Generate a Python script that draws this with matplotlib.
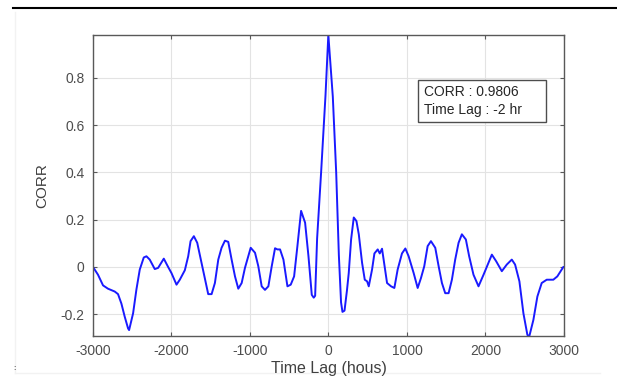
import matplotlib
matplotlib.use("Agg")
import matplotlib.pyplot as plt
from matplotlib.lines import Line2D
from matplotlib.patches import Rectangle

plt.rcParams['font.family'] = ['Liberation Sans', 'DejaVu Sans']
plt.rcParams['axes.unicode_minus'] = False

# cross-correlation (lag in hours)
lags = [-3000, -2936, -2872, -2809, -2723, -2681, -2638, -2596, -2553, -2540,
        -2489, -2447, -2404, -2353, -2319, -2277, -2213, -2170, -2098, -2043,
        -2000, -1936, -1894, -1830, -1787, -1757, -1715, -1672, -1617, -1553,
        -1532, -1489, -1447, -1404, -1362, -1319, -1277, -1234, -1191, -1149,
        -1106, -1064, -991, -936, -894, -851, -809, -766, -723, -681,
        -651, -617, -574, -523, -481, -438, -396, -349, -298, -255,
        -213, -188, -170, -145, -94, -38, -2, 55, 98, 132,
        160, 178, 204, 235, 258, 288, 322, 356, 386, 428,
        462, 492, 513, 555, 585, 627, 653, 682, 712, 746,
        797, 839, 881, 936, 979, 1021, 1085, 1136, 1178, 1220,
        1263, 1305, 1360, 1403, 1445, 1487, 1530, 1572, 1614, 1657,
        1699, 1750, 1792, 1847, 1911, 1975, 2038, 2081, 2136, 2208,
        2271, 2335, 2377, 2432, 2483, 2534, 2559, 2610, 2661, 2716,
        2780, 2864, 2915, 2992, 3000]
corr = [0.0, -0.033, -0.078, -0.092, -0.104, -0.115, -0.155, -0.21, -0.26, -0.267,
        -0.196, -0.096, -0.011, 0.040, 0.045, 0.031, -0.009, -0.004, 0.035, 0.0,
        -0.026, -0.075, -0.054, -0.014, 0.045, 0.109, 0.130, 0.102, 0.017, -0.082,
        -0.115, -0.115, -0.068, 0.031, 0.081, 0.111, 0.106, 0.031, -0.040, -0.092,
        -0.068, -0.004, 0.081, 0.060, 0.003, -0.082, -0.097, -0.082, 0.003, 0.079,
        0.074, 0.074, 0.031, -0.082, -0.075, -0.040, 0.088, 0.237, 0.187, 0.045,
        -0.118, -0.130, -0.122, 0.120, 0.40, 0.726, 0.9806, 0.72, 0.40, 0.05,
        -0.15, -0.19, -0.185, -0.10, -0.026, 0.116, 0.209, 0.194, 0.138, 0.017,
        -0.054, -0.061, -0.082, -0.011, 0.057, 0.074, 0.057, 0.077, 0.010, -0.068,
        -0.082, -0.089, -0.011, 0.057, 0.078, 0.045, -0.026, -0.089, -0.047, 0.003,
        0.088, 0.109, 0.081, 0.003, -0.068, -0.111, -0.111, -0.054, 0.031, 0.102,
        0.138, 0.116, 0.045, -0.033, -0.082, -0.033, 0.017, 0.052, 0.024, -0.018,
        0.010, 0.031, 0.010, -0.061, -0.196, -0.288, -0.292, -0.224, -0.125, -0.068,
        -0.054, -0.054, -0.040, 0.0, 0.0]

x_ticks = [-3000, -2000, -1000, 0, 1000, 2000, 3000]
y_ticks = [-0.2, 0, 0.2, 0.4, 0.6, 0.8]
box_lines = ["CORR : 0.9806", "Time Lag : -2 hr"]

fig = plt.figure(figsize=(6.17, 3.76), dpi=100)

# page decorations around the figure (behind everything)
fig.add_artist(Line2D([15 / 617, 15 / 617], [1 - 12 / 376, 1 - 373 / 376],
                      color=(0.95, 0.95, 0.95), lw=1.0, zorder=0))
fig.add_artist(Line2D([15 / 617, 600 / 617], [1 - 373 / 376, 1 - 373 / 376],
                      color=(0.95, 0.95, 0.95), lw=1.0, zorder=0))

ax = fig.add_axes([0.1507, 0.1064, 0.7634, 0.8005])

ax.plot(lags, corr, color=(0.1, 0.1, 1.0), lw=1.4)

ax.set_xlim(-3000, 3000)
ax.set_ylim(min(corr), max(corr))
ax.set_xticks(x_ticks)
ax.set_xticklabels([str(t) for t in x_ticks])
ax.set_yticks(y_ticks)
ax.set_yticklabels(["-0.2", "0", "0.2", "0.4", "0.6", "0.8"])
ax.grid(True, color=(0.89, 0.89, 0.89), lw=0.8)
ax.set_axisbelow(True)

gray = (0.35, 0.35, 0.35)
for s in ax.spines.values():
    s.set_color(gray)
    s.set_linewidth(1.0)
ax.tick_params(direction="in", length=3, color=gray, labelcolor=(0.3, 0.3, 0.3),
               labelsize=10, top=True, right=True, pad=6)
ax.tick_params(axis="x", labeltop=False)
ax.tick_params(axis="y", labelright=False)

ax.set_xlabel("Time Lag (hous)", fontsize=11.5, color=(0.25, 0.25, 0.25), labelpad=2)
ax.set_ylabel("CORR", fontsize=11, color=(0.25, 0.25, 0.25), labelpad=8)

# annotation box
ax.add_patch(Rectangle((0.690, 0.711), 0.272, 0.1395, transform=ax.transAxes,
                       fill=True, facecolor="white", edgecolor=(0.3, 0.3, 0.3),
                       lw=1.0, zorder=5))
ax.text(0.703, 0.811, box_lines[0], transform=ax.transAxes, fontsize=10,
        va="center", ha="left", color=(0.15, 0.15, 0.15), zorder=6)
ax.text(0.703, 0.751, box_lines[1], transform=ax.transAxes, fontsize=10,
        va="center", ha="left", color=(0.15, 0.15, 0.15), zorder=6)

fig.add_artist(Line2D([13 / 617, 1.0], [1 - 8 / 376, 1 - 8 / 376],
                      color="black", lw=1.5))
fig.text(13 / 617, 1 - 368 / 376, ":", fontsize=6, color="black", va="center")

fig.savefig("out.png", dpi=100)
